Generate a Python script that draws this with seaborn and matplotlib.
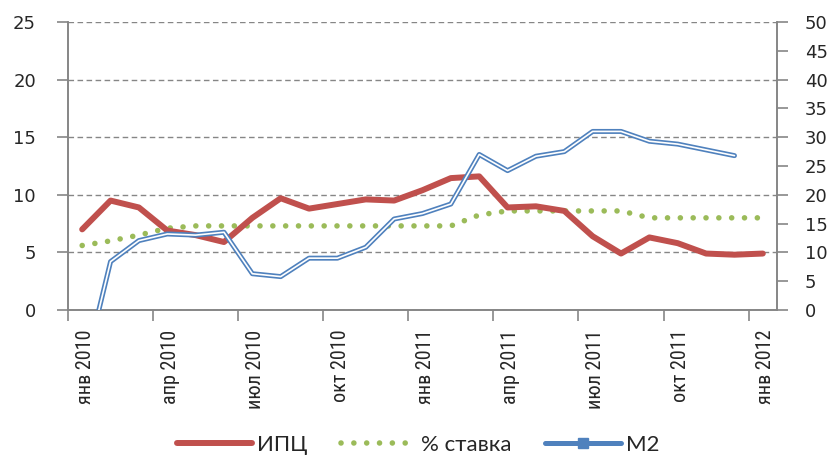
import matplotlib
matplotlib.use("Agg")
import matplotlib.pyplot as plt
from matplotlib.lines import Line2D
import seaborn as sns
import numpy as np
import pandas as pd

months = ["янв 2010", "фев 2010", "мар 2010", "апр 2010", "май 2010", "июн 2010",
          "июл 2010", "авг 2010", "сен 2010", "окт 2010", "ноя 2010", "дек 2010",
          "янв 2011", "фев 2011", "мар 2011", "апр 2011", "май 2011", "июн 2011",
          "июл 2011", "авг 2011", "сен 2011", "окт 2011", "ноя 2011", "дек 2011",
          "янв 2012"]
cpi = [7.0, 9.5, 8.9, 6.9, 6.5, 5.9, 8.0, 9.7, 8.8, 9.2, 9.6, 9.5,
       10.4, 11.45, 11.6, 8.9, 9.0, 8.6, 6.4, 4.9, 6.3, 5.8, 4.9, 4.8, 4.9]
rate = [5.6, 6.0, 6.5, 7.1, 7.3, 7.3, 7.3, 7.3, 7.3, 7.3, 7.3, 7.3,
        7.3, 7.3, 8.25, 8.6, 8.6, 8.6, 8.6, 8.6, 8.0, 8.0, 8.0, 8.0, 8.0]
m2 = [-12.0, 8.4, 12.05, 13.2, 13.0, 13.5, 6.3, 5.8, 9.0, 9.0, 10.9, 15.8,
      16.75, 18.4, 27.0, 24.2, 26.7, 27.5, 31.0, 31.0, 29.3, 28.8, 27.8, 26.8, np.nan]
tick_labels = ["янв 2010", "апр 2010", "июл 2010", "окт 2010", "янв 2011",
               "апр 2011", "июл 2011", "окт 2011", "янв 2012"]
legend_labels = ["ИПЦ", "% ставка", "M2"]

RED = "#C0504D"
GREEN = "#9BBB59"
BLUE = "#4F81BD"
GRID = "#868686"
NARROW = ['Liberation Sans Narrow', 'Roboto Condensed', 'DejaVu Sans']

sns.set_style("white")
plt.rcParams['font.family'] = ['DejaVu Sans']

df = pd.DataFrame({"pos": np.arange(len(months)) + 0.5, "cpi": cpi, "rate": rate, "m2": m2})

fig = plt.figure(figsize=(8.3, 4.55), dpi=100)
ax = fig.add_axes([68 / 830, 1 - 310 / 455, (777 - 68) / 830, (310 - 22) / 455])
ax2 = ax.twinx()

DOT = (0, (0.01, 2.3))
sns.lineplot(data=df, x="pos", y="rate", ax=ax, color=GREEN, linewidth=4.0,
             linestyle=DOT, dash_capstyle="round", zorder=3)
sns.lineplot(data=df, x="pos", y="cpi", ax=ax, color=RED, linewidth=4.3,
             solid_capstyle="round", solid_joinstyle="round", zorder=4)
d2 = df.dropna(subset=["m2"])
sns.lineplot(data=d2, x="pos", y="m2", ax=ax2, color=BLUE, linewidth=3.6, zorder=3)
sns.lineplot(data=d2, x="pos", y="m2", ax=ax2, color="white", linewidth=1.2, zorder=4)

ax.set_xlim(0, 25)
ax.set_ylim(0, 25)
ax2.set_ylim(0, 50)
ax.set_yticks(np.arange(0, 26, 5))
ax2.set_yticks(np.arange(0, 51, 5))
# tick marks at quarter starts; labels (minor ticks) sit slightly to the right, as in Excel
tick_pos = np.arange(0, 25, 3)
ax.set_xticks(tick_pos)
ax.set_xticklabels([""] * len(tick_pos))
ax.set_xticks(tick_pos + 0.6, minor=True)
ax.set_xticklabels(tick_labels, minor=True, rotation=90, fontfamily=NARROW, fontsize=14.5)
ax.set_xlabel("")
ax.set_ylabel("")
ax2.set_ylabel("")

for a in (ax, ax2):
    for s in a.spines.values():
        s.set_color(GRID)
        s.set_linewidth(1.2)
    a.spines["top"].set_visible(False)

ax.yaxis.grid(True, color=GRID, linestyle=(0, (4, 2.5)), linewidth=1.0)
ax.set_axisbelow(True)
ax.tick_params(axis="y", direction="out", length=8, width=1.2, color=GRID,
               labelsize=13, pad=15, left=True)
ax.tick_params(axis="x", which="major", direction="out", length=8, width=1.2, color=GRID,
               bottom=True)
ax.tick_params(axis="x", which="minor", length=0, pad=14, bottom=True)
ax2.tick_params(axis="y", direction="out", length=8, width=1.2, color=GRID,
                labelsize=13, pad=12, right=True)

handles = [
    Line2D([], [], color=RED, linewidth=4.3),
    Line2D([], [], color=GREEN, linewidth=4.0, linestyle=DOT, dash_capstyle="round"),
    Line2D([], [], color=BLUE, linewidth=3.6, marker="s", markersize=6.5,
           markerfacecolor=BLUE, markeredgecolor=BLUE),
]
leg = fig.legend(handles, legend_labels, loc="center", bbox_to_anchor=(418 / 830, 1 - 445 / 455),
                 ncol=3, frameon=False, handlelength=3.4, handletextpad=0.22, columnspacing=1.5,
                 prop={"family": ['Lato', 'DejaVu Sans'], "size": 16})

fig.savefig("out.png", dpi=100)
